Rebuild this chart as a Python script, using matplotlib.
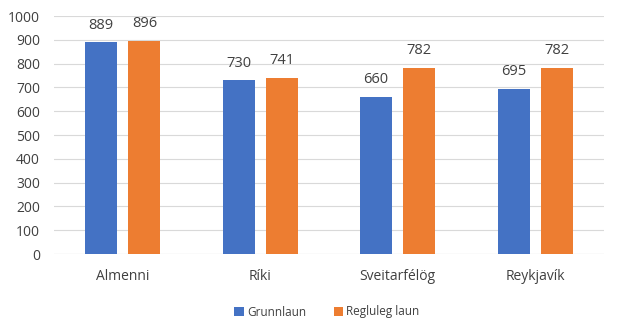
import matplotlib.pyplot as plt
import numpy as np

plt.rcParams['font.family'] = ['Open Sans', 'DejaVu Sans']

categories = ['Almenni', 'Ríki', 'Sveitarfélög', 'Reykjavík']
grunnlaun = [889, 730, 660, 695]
regluleg = [896, 741, 782, 782]

fig = plt.figure(figsize=(6.29, 3.22), dpi=100)
ax = fig.add_axes([54/629, 1-254/322, 550/629, 238/322])

x = np.arange(len(categories))
w = 0.233
off = 0.157
b1 = ax.bar(x - off, grunnlaun, w, color='#4472C4', label='Grunnlaun', zorder=3)
b2 = ax.bar(x + off, regluleg, w, color='#ED7D31', label='Regluleg laun', zorder=3)
for bars in (b1, b2):
    ax.bar_label(bars, padding=7, fontsize=10.5, color='#404040')

ax.set_xlim(-0.5, len(categories) - 0.5)
ax.set_ylim(0, 1000)
ax.set_yticks(range(0, 1001, 100))
ax.set_xticks(x)
ax.set_xticklabels(categories)
ax.tick_params(axis='both', length=0, labelsize=10, colors='#404040')
ax.tick_params(axis='x', pad=11)
ax.tick_params(axis='y', pad=10)
ax.grid(axis='y', color='#D9D9D9', linewidth=0.8, zorder=0)
for s in ax.spines.values():
    s.set_visible(False)
ax.axhline(0, color='#D9D9D9', linewidth=0.8, zorder=1)

fig.legend(loc='center', bbox_to_anchor=(327/629, 1-312/322), ncol=2, frameon=False,
           fontsize=8.5, handlelength=0.8, handleheight=0.8, handletextpad=0.3,
           columnspacing=2.3, labelcolor='#404040')

fig.savefig('out.png', dpi=100)
